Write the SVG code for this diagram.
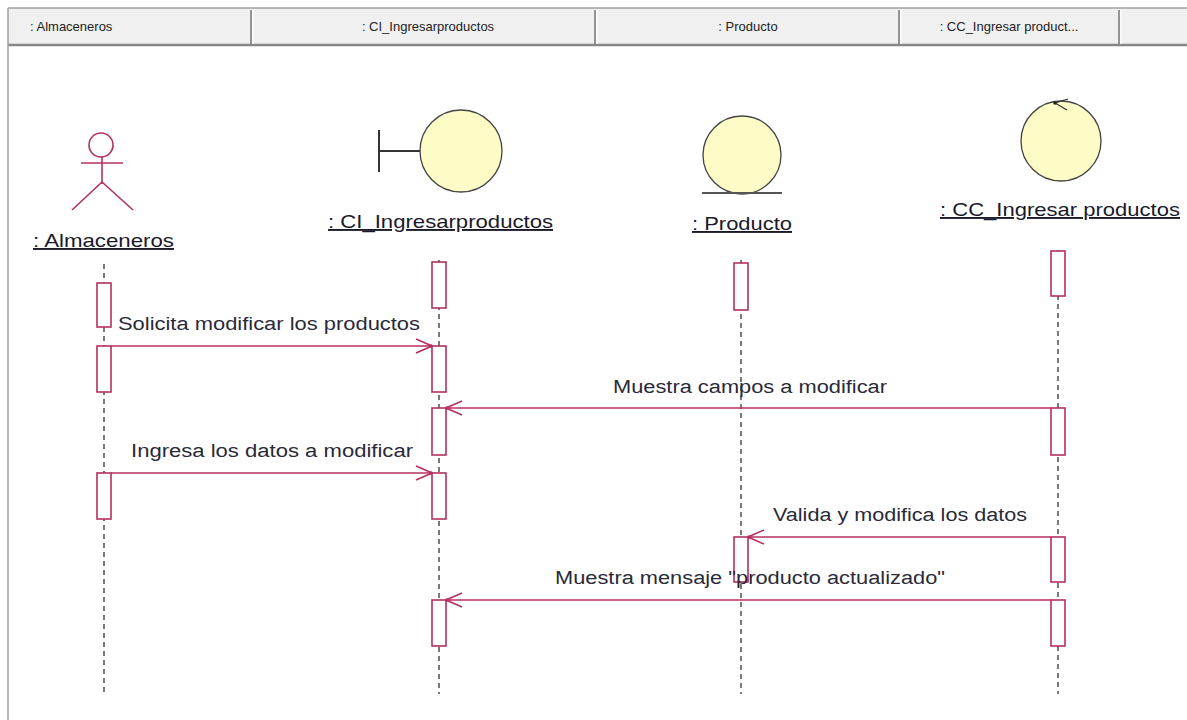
<svg xmlns="http://www.w3.org/2000/svg" width="1187" height="720" viewBox="0 0 1187 720">
<style>
.hdr{font-family:"Liberation Sans",Arial,sans-serif;font-size:13px;fill:#222}
.lbl{font-family:"Liberation Sans",Arial,sans-serif;font-size:19px;fill:#1a1a2a;text-decoration:underline}
.msg{font-family:"Liberation Sans",Arial,sans-serif;font-size:18px;fill:#2a2a38}
.act{fill:#fff;stroke:#b5305f;stroke-width:1.6}
.life{stroke:#333;stroke-width:1.3;stroke-dasharray:5 4;fill:none}
.arr{stroke:#b5305f;stroke-width:1.6;fill:none}
.ball{fill:#fdfbc6;stroke:#444;stroke-width:1.3}
.actor{stroke:#b5305f;stroke-width:1.6;fill:none}
</style>
<defs>
<marker id="open" viewBox="0 0 18 16" refX="17" refY="8" markerWidth="18" markerHeight="16" markerUnits="userSpaceOnUse" orient="auto">
<path d="M1,1 L17,8 L1,15" fill="none" stroke="#b5305f" stroke-width="1.6"/>
<circle cx="16" cy="8" r="1.8" fill="#b5305f"/>
</marker>
</defs>
<rect x="0" y="0" width="1187" height="720" fill="#fff"/>
<g id="frame">
<rect x="8" y="8" width="1179" height="38" fill="#f0f0f0"/>
<line x1="8" y1="8" x2="1187" y2="8" stroke="#a0a0a0" stroke-width="1.5"/>
<line x1="8" y1="45" x2="1187" y2="45" stroke="#888" stroke-width="2.5"/>
<line x1="8" y1="8" x2="8" y2="720" stroke="#a0a0a0" stroke-width="1.5"/>
<g stroke="#777" stroke-width="1.5">
<line x1="251" y1="10" x2="251" y2="44"/>
<line x1="595" y1="10" x2="595" y2="44"/>
<line x1="899" y1="10" x2="899" y2="44"/>
<line x1="1119" y1="10" x2="1119" y2="44"/>
</g>
<g stroke="#fff" stroke-width="1">
<line x1="253" y1="10" x2="253" y2="44"/>
<line x1="597" y1="10" x2="597" y2="44"/>
<line x1="901" y1="10" x2="901" y2="44"/>
<line x1="1121" y1="10" x2="1121" y2="44"/>
</g>
<text class="hdr" x="30" y="31">: Almaceneros</text>
<text class="hdr" x="428" y="31" text-anchor="middle">: CI_Ingresarproductos</text>
<text class="hdr" x="748" y="31" text-anchor="middle">: Producto</text>
<text class="hdr" x="1009" y="31" text-anchor="middle">: CC_Ingresar product...</text>
</g>
<g id="lifelines">
<line class="life" x1="104" y1="264" x2="104" y2="694"/>
<line class="life" x1="439" y1="260" x2="439" y2="694"/>
<line class="life" x1="741" y1="260" x2="741" y2="694"/>
<line class="life" x1="1058" y1="250" x2="1058" y2="694"/>
</g>
<g id="almaceneros">
<circle class="actor" cx="101" cy="145" r="12"/>
<line class="actor" x1="81" y1="163" x2="123" y2="163"/>
<line class="actor" x1="102" y1="157" x2="102" y2="184"/>
<line class="actor" x1="102" y1="182" x2="72" y2="210"/>
<line class="actor" x1="102" y1="182" x2="133" y2="210"/>
<text class="lbl" x="33" y="247" textLength="141" lengthAdjust="spacingAndGlyphs">: Almaceneros</text>
<rect class="act" x="97" y="283" width="14" height="44"/>
<rect class="act" x="97" y="346" width="14" height="46"/>
<rect class="act" x="97" y="473" width="14" height="46"/>
</g>
<g id="ci_ingresarproductos">
<line x1="379" y1="130" x2="379" y2="172" stroke="#333" stroke-width="2"/>
<line x1="379" y1="151" x2="421" y2="151" stroke="#333" stroke-width="2"/>
<circle class="ball" cx="461" cy="151" r="41"/>
<text class="lbl" x="328" y="228" textLength="225" lengthAdjust="spacingAndGlyphs">: CI_Ingresarproductos</text>
<rect class="act" x="432" y="262" width="14" height="46"/>
<rect class="act" x="432" y="346" width="14" height="46"/>
<rect class="act" x="432" y="408" width="14" height="47"/>
<rect class="act" x="432" y="473" width="14" height="46"/>
<rect class="act" x="432" y="600" width="14" height="46"/>
</g>
<g id="producto">
<circle class="ball" cx="742" cy="155" r="39"/>
<line x1="702" y1="193" x2="782" y2="193" stroke="#555" stroke-width="2"/>
<text class="lbl" x="692" y="230" textLength="100" lengthAdjust="spacingAndGlyphs">: Producto</text>
<rect class="act" x="734" y="263" width="14" height="47"/>
<rect class="act" x="734" y="537" width="14" height="45"/>
</g>
<g id="cc_ingresarproductos">
<circle class="ball" cx="1061" cy="141" r="40"/>
<path d="M1068,99 L1055,103 L1067,110" fill="none" stroke="#333" stroke-width="1.3"/>
<circle cx="1055" cy="103" r="1.8" fill="#222"/>
<text class="lbl" x="940" y="216" textLength="240" lengthAdjust="spacingAndGlyphs">: CC_Ingresar productos</text>
<rect class="act" x="1051" y="251" width="14" height="45"/>
<rect class="act" x="1051" y="408" width="14" height="47"/>
<rect class="act" x="1051" y="537" width="14" height="45"/>
<rect class="act" x="1051" y="600" width="14" height="46"/>
</g>
<g id="connectors">
<line class="arr" x1="111" y1="346" x2="432" y2="346" marker-end="url(#open)"/>
<line class="arr" x1="1051" y1="408" x2="446" y2="408" marker-end="url(#open)"/>
<line class="arr" x1="111" y1="473" x2="432" y2="473" marker-end="url(#open)"/>
<line class="arr" x1="1051" y1="537" x2="748" y2="537" marker-end="url(#open)"/>
<line class="arr" x1="1051" y1="600" x2="446" y2="600" marker-end="url(#open)"/>
<text class="msg" x="118" y="330" textLength="302" lengthAdjust="spacingAndGlyphs">Solicita modificar los productos</text>
<text class="msg" x="613" y="393" textLength="274" lengthAdjust="spacingAndGlyphs">Muestra campos a modificar</text>
<text class="msg" x="131" y="457" textLength="282" lengthAdjust="spacingAndGlyphs">Ingresa los datos a modificar</text>
<text class="msg" x="773" y="521" textLength="254" lengthAdjust="spacingAndGlyphs">Valida y modifica los datos</text>
<text class="msg" x="555" y="584" textLength="390" lengthAdjust="spacingAndGlyphs">Muestra mensaje "producto actualizado"</text>
</g>
</svg>
